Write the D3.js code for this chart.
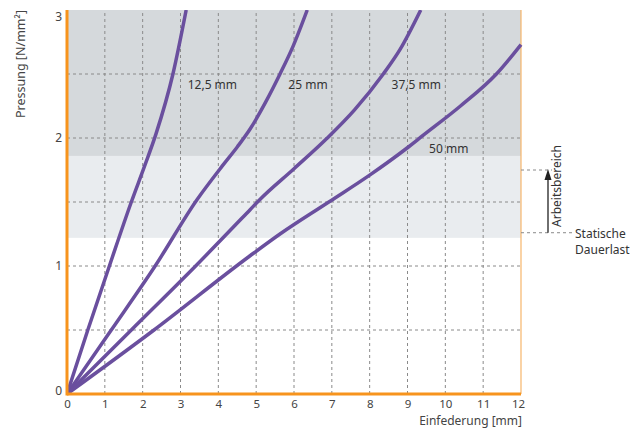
<!DOCTYPE html>
<html><head><meta charset="utf-8">
<script src="https://cdn.jsdelivr.net/npm/d3@7/dist/d3.min.js"></script>
<style>body{margin:0;background:#fff}text{font-family:"Noto Sans",sans-serif}</style>
</head><body><svg id="c" width="642" height="428"></svg>
<script>
// ---- data ----
const xTicks = [0,1,2,3,4,5,6,7,8,9,10,11,12];
const yTicks = [0,1,2,3];
const xGrid = [1,2,3,4,5,6,7,8,9,10,11];
const yGrid = [0.5,1,1.5,2,2.5];
const seriesNames = ["12,5 mm","25 mm","37,5 mm","50 mm"];
const s12_5 = [[0,0],[0.55,0.5],[1.12,1.0],[1.70,1.5],[2.05,1.78],[2.35,2.03],[2.80,2.5],[3.15,3.0]];
const s25   = [[0,0],[1.17,0.5],[2.33,1.0],[3.44,1.52],[4.1,1.78],[4.5,1.93],[4.84,2.07],[5.25,2.28],[5.63,2.5],[5.98,2.72],[6.35,3.0]];
const s37_5 = [[0,0],[1.7,0.5],[3.4,1.0],[4.84,1.44],[5.1,1.52],[6.0,1.76],[6.88,2.0],[7.6,2.22],[8.36,2.5],[8.8,2.69],[9.35,3.0]];
const s50   = [[0,0],[2.3,0.5],[4.84,1.08],[5.63,1.25],[6.92,1.5],[8.0,1.71],[8.98,1.92],[9.41,2.02],[10.4,2.25],[11.35,2.5],[12,2.73]];
const labelPos = [[3.19,2.38],[5.85,2.38],[8.58,2.38],[9.57,1.885]];
const bandLight = [1.22,1.86];
const bandDark = [1.86,3];
const workRange = [1.26,1.75];
const xTitle = "Einfederung [mm]";
const yTitle = "Pressung [N/mm²]";

// ---- chart ----
const svg = d3.select("#c");
const x = d3.scaleLinear().domain([0,12]).range([67,521]);
const y = d3.scaleLinear().domain([0,3]).range([394,10]);
const purple = "#6a4f9e", orange = "#f7941d";

svg.append("rect").attr("x",x(0)).attr("width",x(12)-x(0))
  .attr("y",y(bandLight[1])).attr("height",y(bandLight[0])-y(bandLight[1])).attr("fill","#e9ecef");
svg.append("rect").attr("x",x(0)).attr("width",x(12)-x(0))
  .attr("y",y(bandDark[1])).attr("height",y(bandDark[0])-y(bandDark[1])).attr("fill","#d5d9dc");

// grid
svg.append("g").selectAll("line").data(xGrid).join("line")
  .attr("x1",d=>x(d)).attr("x2",d=>x(d)).attr("y1",y(0)).attr("y2",y(3))
  .attr("stroke","#8a8a8a").attr("stroke-width",1).attr("stroke-dasharray","3,3");
svg.append("g").selectAll("line").data(yGrid).join("line")
  .attr("y1",d=>y(d)).attr("y2",d=>y(d)).attr("x1",x(0)).attr("x2",x(12))
  .attr("stroke","#8a8a8a").attr("stroke-width",1).attr("stroke-dasharray","3,3");

// right border
svg.append("line").attr("x1",x(12)).attr("x2",x(12)).attr("y1",y(0)).attr("y2",y(3))
  .attr("stroke","#f6b56a").attr("stroke-width",1.2);

// curves
const line = d3.line().x(d=>x(d[0])).y(d=>y(d[1])).curve(d3.curveMonotoneX);
svg.append("defs").append("clipPath").attr("id","clip").append("rect")
  .attr("x",x(0)).attr("y",y(3)).attr("width",x(12)-x(0)+3).attr("height",y(0)-y(3));
svg.append("g").attr("clip-path","url(#clip)").selectAll("path").data([s12_5,s25,s37_5,s50]).join("path")
  .attr("d",line).attr("fill","none").attr("stroke",purple).attr("stroke-width",3.5)
  .attr("stroke-linejoin","round");

// series labels
svg.append("g").selectAll("text").data(seriesNames).join("text")
  .attr("x",(d,i)=>x(labelPos[i][0])).attr("y",(d,i)=>y(labelPos[i][1]))
  .attr("font-size",12).attr("fill","#333").text(d=>d);

// axes
const xAxis = d3.axisBottom(x).tickValues(xTicks).tickSize(0).tickPadding(6).tickFormat(d3.format("d"));
const gx = svg.append("g").attr("transform",`translate(0,${y(0)})`).call(xAxis);
gx.select(".domain").remove();
gx.selectAll("text").attr("font-size",11.5).attr("fill","#444").attr("font-family","Noto Sans");
gx.selectAll(".tick").filter(d=>d===12).select("text").attr("dx",-3);
const yAxis = d3.axisLeft(y).tickValues(yTicks).tickSize(0).tickPadding(5).tickFormat(d3.format("d"));
const gy = svg.append("g").attr("transform",`translate(${x(0)},0)`).call(yAxis);
gy.select(".domain").remove();
gy.selectAll("text").attr("font-size",12).attr("fill","#444").attr("font-family","Noto Sans");
gy.selectAll(".tick").attr("transform",d=>`translate(0,${Math.max(y(d),17)})`);
gy.selectAll(".tick").filter(d=>d===0).attr("transform",`translate(0,${y(0)-3})`);

svg.append("line").attr("x1",x(0)).attr("x2",x(12)).attr("y1",y(0)).attr("y2",y(0))
  .attr("stroke",orange).attr("stroke-width",3);
svg.append("line").attr("x1",x(0)).attr("x2",x(0)).attr("y1",y(3)).attr("y2",y(0)+1.5)
  .attr("stroke",orange).attr("stroke-width",3);

svg.append("text").attr("x",x(12)+1).attr("y",425).attr("text-anchor","end")
  .attr("font-size",12).attr("fill","#444").text(xTitle);
svg.append("text").attr("transform",`translate(25,10) rotate(-90)`).attr("text-anchor","end")
  .attr("font-size",12.5).attr("fill","#444").text(yTitle);

// working range annotation
svg.append("line").attr("x1",x(12)).attr("x2",552).attr("y1",y(workRange[1])).attr("y2",y(workRange[1]))
  .attr("stroke","#8a8a8a").attr("stroke-dasharray","3,3");
svg.append("line").attr("x1",x(12)).attr("x2",573).attr("y1",y(workRange[0])).attr("y2",y(workRange[0]))
  .attr("stroke","#8a8a8a").attr("stroke-dasharray","3,3");
svg.append("line").attr("x1",548).attr("x2",548).attr("y1",y(workRange[0])).attr("y2",y(workRange[1])+8)
  .attr("stroke","#222").attr("stroke-width",1.3);
const ty = y(workRange[1]);
svg.append("path").attr("d",`M548,${ty-1} L544.5,${ty+10} L551.5,${ty+10} Z`).attr("fill","#222");
svg.append("text").attr("transform",`translate(561,186) rotate(-90)`)
  .attr("text-anchor","middle").attr("font-size",12).attr("fill","#333").text("Arbeitsbereich");
svg.append("text").attr("x",575).attr("y",238).attr("font-size",12).attr("fill","#333").text("Statische");
svg.append("text").attr("x",575).attr("y",254).attr("font-size",12).attr("fill","#333").text("Dauerlast");
</script></body></html>
